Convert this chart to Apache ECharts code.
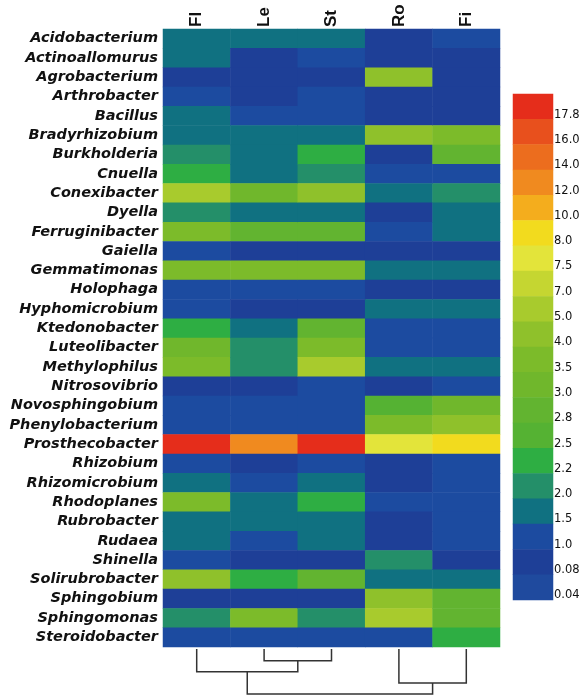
<!DOCTYPE html>
<html>
<head>
<meta charset="utf-8">
<script src="https://cdn.jsdelivr.net/npm/echarts@6/dist/echarts.min.js"></script>
<style>html,body{margin:0;padding:0;background:#fff}#c{width:586px;height:697px}</style>
</head>
<body>
<div id="c"></div>
<script>
const genera = ['Acidobacterium','Actinoallomurus','Agrobacterium','Arthrobacter','Bacillus','Bradyrhizobium','Burkholderia','Cnuella','Conexibacter','Dyella','Ferruginibacter','Gaiella','Gemmatimonas','Holophaga','Hyphomicrobium','Ktedonobacter','Luteolibacter','Methylophilus','Nitrosovibrio','Novosphingobium','Phenylobacterium','Prosthecobacter','Rhizobium','Rhizomicrobium','Rhodoplanes','Rubrobacter','Rudaea','Shinella','Solirubrobacter','Sphingobium','Sphingomonas','Steroidobacter'];
const samples = ['Fl','Le','St','Ro','Fi'];

const valFl = [1.5,1.5,0.08,1.0,1.5,1.5,2.0,2.2,5.0,2.0,3.5,1.0,3.5,1.0,1.0,2.2,3.0,3.5,0.08,1.0,1.0,17.8,1.0,1.5,3.5,1.5,1.5,1.0,4.0,0.08,2.0,1.0];
const valLe = [1.5,0.08,0.08,0.08,1.0,1.5,1.5,1.5,3.0,1.5,2.8,0.08,3.5,1.0,0.08,1.5,2.0,2.0,0.08,1.0,1.0,12.0,0.08,1.0,1.5,1.5,1.0,0.08,2.2,0.08,3.5,1.0];
const valSt = [1.5,1.0,0.08,1.0,1.0,1.5,2.2,2.0,4.0,1.5,2.8,0.08,3.5,1.0,0.08,2.8,3.5,5.0,1.0,1.0,1.0,17.8,1.0,1.5,2.2,1.5,1.5,0.08,2.8,0.08,2.0,1.0];
const valRo = [0.08,0.08,4.0,0.08,0.08,4.0,0.08,1.0,1.5,0.08,1.0,0.08,1.5,0.08,1.5,1.0,1.0,1.5,0.08,2.5,3.5,7.5,0.08,0.08,1.0,0.08,0.08,2.0,1.5,4.0,5.0,1.0];
const valFi = [1.0,0.08,0.08,0.08,0.08,3.5,2.8,1.0,2.0,1.5,1.5,0.08,1.5,0.08,1.5,1.0,1.0,1.5,1.0,3.0,4.0,8.0,1.0,1.0,1.0,1.0,1.0,0.08,1.5,2.8,2.8,2.2];

const legendLevels = [17.8,16.0,14.0,12.0,10.0,8.0,7.5,7.0,5.0,4.0,3.5,3.0,2.8,2.5,2.2,2.0,1.5,1.0,0.08,0.04];
const legendLabels = ['17.8','16.0','14.0','12.0','10.0','8.0','7.5','7.0','5.0','4.0','3.5','3.0','2.8','2.5','2.2','2.0','1.5','1.0','0.08','0.04'];
const levelColors = ['#e52d1b','#e8501d','#ec6d1e','#f08a1f','#f4ad1d','#f2db1e','#e3e43a','#c5d631','#a8cb2d','#8fc12b','#7cbb2a','#70b72c','#62b430','#55b233','#2eae43','#248f69','#107181','#1c4ba0','#1e3f97','#1f4a9e'];

// dendrogram merges: [childA, childB, height]; 0-4 = leaves, 5+ = earlier merges
const merges = [[1,2,1.0],[0,5,1.95],[3,4,2.9],[6,7,3.85]];

const cols = [valFl,valLe,valSt,valRo,valFi];
const heatData = [];
cols.forEach((arr,ci)=>arr.forEach((v,ri)=>heatData.push([ci,ri,v])));
const legendData = legendLevels.map((v,i)=>[0,i,v]);

const nodeX = [0,1,2,3,4], nodeH = [0,0,0,0,0];
const dendroData = merges.map(m=>{
  const xa=nodeX[m[0]], ha=nodeH[m[0]], xb=nodeX[m[1]], hb=nodeH[m[1]];
  nodeX.push((xa+xb)/2); nodeH.push(m[2]);
  return [xa,ha,xb,hb,m[2]];
});

const chart = echarts.init(document.getElementById('c'));
chart.setOption({
  backgroundColor:'#fff',
  animation:false,
  grid:[
    {left:163,top:29,width:337,height:618},
    {left:513,top:94,width:40,height:506},
    {left:163,top:649,width:337,height:45}
  ],
  xAxis:[
    {gridIndex:0,type:'category',data:samples,position:'top',axisLine:{show:false},axisTick:{show:false},
     axisLabel:{rotate:-90,margin:2,color:'#111',fontWeight:'bold',fontSize:17,fontFamily:'Liberation Sans, Arial'}},
    {gridIndex:1,type:'category',data:['c'],show:false},
    {gridIndex:2,type:'value',min:-0.5,max:4.5,show:false}
  ],
  yAxis:[
    {gridIndex:0,type:'category',data:genera,inverse:true,axisLine:{show:false},axisTick:{show:false},
     axisLabel:{interval:0,margin:5,color:'#111',fontWeight:'bold',fontStyle:'italic',fontSize:14.5,fontFamily:'DejaVu Sans'}},
    {gridIndex:1,type:'category',data:legendLabels,inverse:true,position:'right',axisLine:{show:false},axisTick:{show:false},
     axisLabel:{interval:0,margin:1,color:'#111',fontSize:11.5,fontFamily:'DejaVu Sans',verticalAlign:'top',padding:[2,0,0,0]}},
    {gridIndex:2,type:'value',min:0,max:3.85,inverse:true,show:false}
  ],
  visualMap:{type:'piecewise',show:false,seriesIndex:[0,1],dimension:2,
    pieces:legendLevels.map((v,i)=>({value:v,color:levelColors[i]}))},
  series:[
    {type:'heatmap',xAxisIndex:0,yAxisIndex:0,data:heatData,itemStyle:{borderWidth:0}},
    {type:'heatmap',xAxisIndex:1,yAxisIndex:1,data:legendData,itemStyle:{borderWidth:0}},
    {type:'custom',xAxisIndex:2,yAxisIndex:2,data:dendroData,silent:true,
     renderItem:function(params,api){
       const xa=api.value(0),ha=api.value(1),xb=api.value(2),hb=api.value(3),h=api.value(4);
       return {type:'polyline',shape:{points:[api.coord([xa,ha]),api.coord([xa,h]),api.coord([xb,h]),api.coord([xb,hb])]},
         style:{stroke:'#333',lineWidth:1.5,fill:null}};
     }}
  ]
});
</script>
</body>
</html>
